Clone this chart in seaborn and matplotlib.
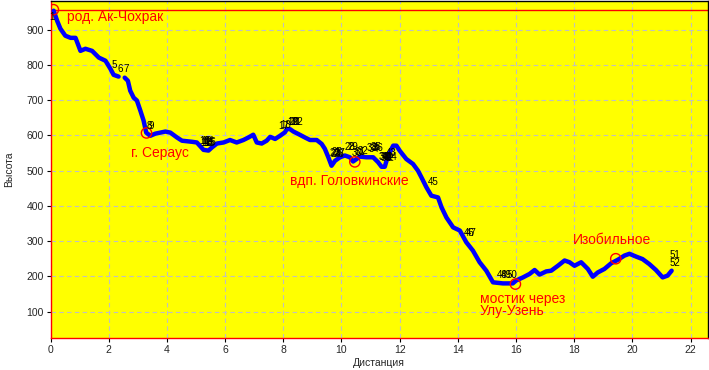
import matplotlib
matplotlib.use("Agg")
import matplotlib.pyplot as plt
import seaborn as sns
import pandas as pd

# elevation profile (distance, height)
track_x = [0.11, 0.23, 0.34, 0.51, 0.69, 0.86, 1.03, 1.20, 1.43, 1.66,
           1.89, 2.06, 2.17, 2.34, 2.55, 2.66, 2.74, 2.86, 2.97, 3.09,
           3.20, 3.29, 3.43, 3.60, 3.95, 4.12, 4.35, 4.52, 4.86, 5.03,
           5.26, 5.43, 5.55, 5.72, 5.95, 6.17, 6.40, 6.63, 6.80, 6.97,
           7.09, 7.26, 7.43, 7.55, 7.72, 7.89, 8.06, 8.12, 8.23, 8.35,
           8.52, 8.75, 8.92, 9.15, 9.32, 9.43, 9.55, 9.66, 9.78, 9.95,
           10.12, 10.29, 10.40, 10.52, 10.63, 10.86, 11.09, 11.26, 11.38, 11.49,
           11.55, 11.66, 11.78, 11.89, 12.00, 12.23, 12.46, 12.63, 12.75, 12.92,
           13.09, 13.32, 13.44, 13.61, 13.84, 14.07, 14.29, 14.52, 14.75, 14.98,
           15.21, 15.55, 15.89, 16.00, 16.24, 16.47, 16.64, 16.81, 17.04, 17.21,
           17.44, 17.67, 17.84, 18.01, 18.24, 18.47, 18.64, 18.81, 19.04, 19.27,
           19.50, 19.73, 19.90, 20.13, 20.35, 20.58, 20.81, 21.04, 21.21, 21.35]
track_y = [954, 925, 903, 883, 877, 877, 840, 846, 840, 821,
           812, 789, 772, 767, 764, 755, 727, 707, 699, 670,
           642, 608, 599, 605, 611, 608, 594, 585, 582, 580,
           559, 557, 566, 577, 580, 587, 580, 587, 594, 602,
           580, 577, 585, 596, 590, 599, 609, 618, 618, 611,
           604, 594, 587, 587, 576, 562, 538, 514, 528, 538,
           543, 538, 526, 533, 540, 538, 538, 524, 511, 511,
           528, 552, 571, 571, 557, 533, 519, 500, 481, 453,
           429, 424, 396, 367, 339, 330, 297, 273, 240, 216,
           183, 180, 180, 188, 197, 207, 218, 205, 214, 216,
           230, 245, 240, 230, 240, 221, 199, 211, 221, 237,
           247, 259, 264, 256, 249, 235, 218, 197, 202, 216]
gap_after = 14  # the track has a short break after the 14th point

# named places (red circles + captions)
place_x = [0.10, 3.30, 10.46, 15.98, 19.43]
place_y = [957, 607, 525, 178, 250]
caption_text = ["род. Ак-Чохрак", "г. Сераус", "вдп. Головкинские",
                "мостик через", "Улу-Узень", "Изобильное"]
caption_x = [0.57, 2.77, 8.23, 14.75, 14.75, 17.95]
caption_y = [935, 550, 471, 137, 103, 304]
max_height = 955

# waypoint numbers (overlapping small labels, as in the source)
wp_text = ["1", "5", "6", "7", "8", "9",
           "10", "11", "12", "13", "14", "15", "16",
           "17", "18", "19", "20", "21", "22",
           "23", "24", "25", "26", "27", "28", "29", "30", "31", "32",
           "33", "34", "35", "36",
           "37", "38", "39", "40", "41", "42", "43", "44",
           "45", "46", "47", "48", "49", "50", "51", "52"]
wp_x = [0.05, 2.18, 2.39, 2.59, 3.38, 3.45,
        5.30, 5.33, 5.37, 5.40, 5.43, 5.47, 5.50,
        8.02, 8.09, 8.33, 8.37, 8.43, 8.50,
        9.77, 9.81, 9.86, 9.90, 9.95, 10.29, 10.39, 10.53, 10.63, 10.73,
        11.04, 11.11, 11.18, 11.25,
        11.45, 11.49, 11.53, 11.57, 11.61, 11.65, 11.70, 11.76,
        13.14, 14.38, 14.45, 15.51, 15.68, 15.85, 21.45, 21.45]
wp_y = [935, 799, 788, 788, 626, 626,
        583, 579, 583, 579, 583, 579, 581,
        626, 629, 637, 637, 637, 637,
        550, 548, 552, 548, 550, 567, 567, 550, 553, 556,
        564, 562, 566, 564,
        538, 540, 536, 538, 540, 536, 550, 538,
        468, 324, 324, 205, 205, 205, 262, 239]

x_ticks = list(range(0, 23, 2))
y_ticks = list(range(100, 1000, 100))

sns.set_theme(style="ticks")
plt.rcParams["font.family"] = ["Liberation Sans", "DejaVu Sans"]

df = pd.DataFrame({"dist": track_x, "height": track_y})
df["seg"] = [0 if i < gap_after else 1 for i in range(len(df))]

fig = plt.figure(figsize=(7.09, 3.70), dpi=100)
ax = fig.add_axes([50.5 / 709, 32 / 370, (708 - 50.5) / 709, (338 - 0.5) / 370])
ax.set_facecolor("#FFFF00")

ax.axhline(max_height, color="#FF0000", linewidth=1.0, zorder=2)

sns.lineplot(data=df, x="dist", y="height", units="seg", estimator=None,
             sort=False, color="#0000FF", linewidth=3.2, ax=ax, zorder=3)

ax.scatter(place_x, place_y, s=55, facecolors="none", edgecolors="#FF0000",
           linewidths=1.0, zorder=4)

for t, x, y in zip(caption_text, caption_x, caption_y):
    ax.text(x, y, t, color="#FF0000", fontsize=10, ha="left", va="center", zorder=5)

for t, x, y in zip(wp_text, wp_x, wp_y):
    ax.text(x, y, t, color="black", fontsize=7, ha="center", va="center", zorder=5)

ax.set_xlim(0, 22.6)
ax.set_ylim(25, 983)
ax.set_xticks(x_ticks)
ax.set_yticks(y_ticks)
ax.tick_params(axis="both", labelsize=7.5, length=3, width=0.8, pad=2, color="black")
ax.grid(True, color="#C0C0C0", linestyle=(0, (4, 3)), linewidth=0.8)
ax.set_axisbelow(True)

ax.set_xlabel("Дистанция", fontsize=7.5, labelpad=2)
ax.set_ylabel("Высота", fontsize=7.5, labelpad=9)

for side in ["left", "bottom"]:
    ax.spines[side].set_color("#FF0000")
    ax.spines[side].set_linewidth(1.0)
for side in ["top", "right"]:
    ax.spines[side].set_visible(True)
    ax.spines[side].set_color("black")
    ax.spines[side].set_linewidth(1.0)

fig.savefig("out.png", dpi=100)
